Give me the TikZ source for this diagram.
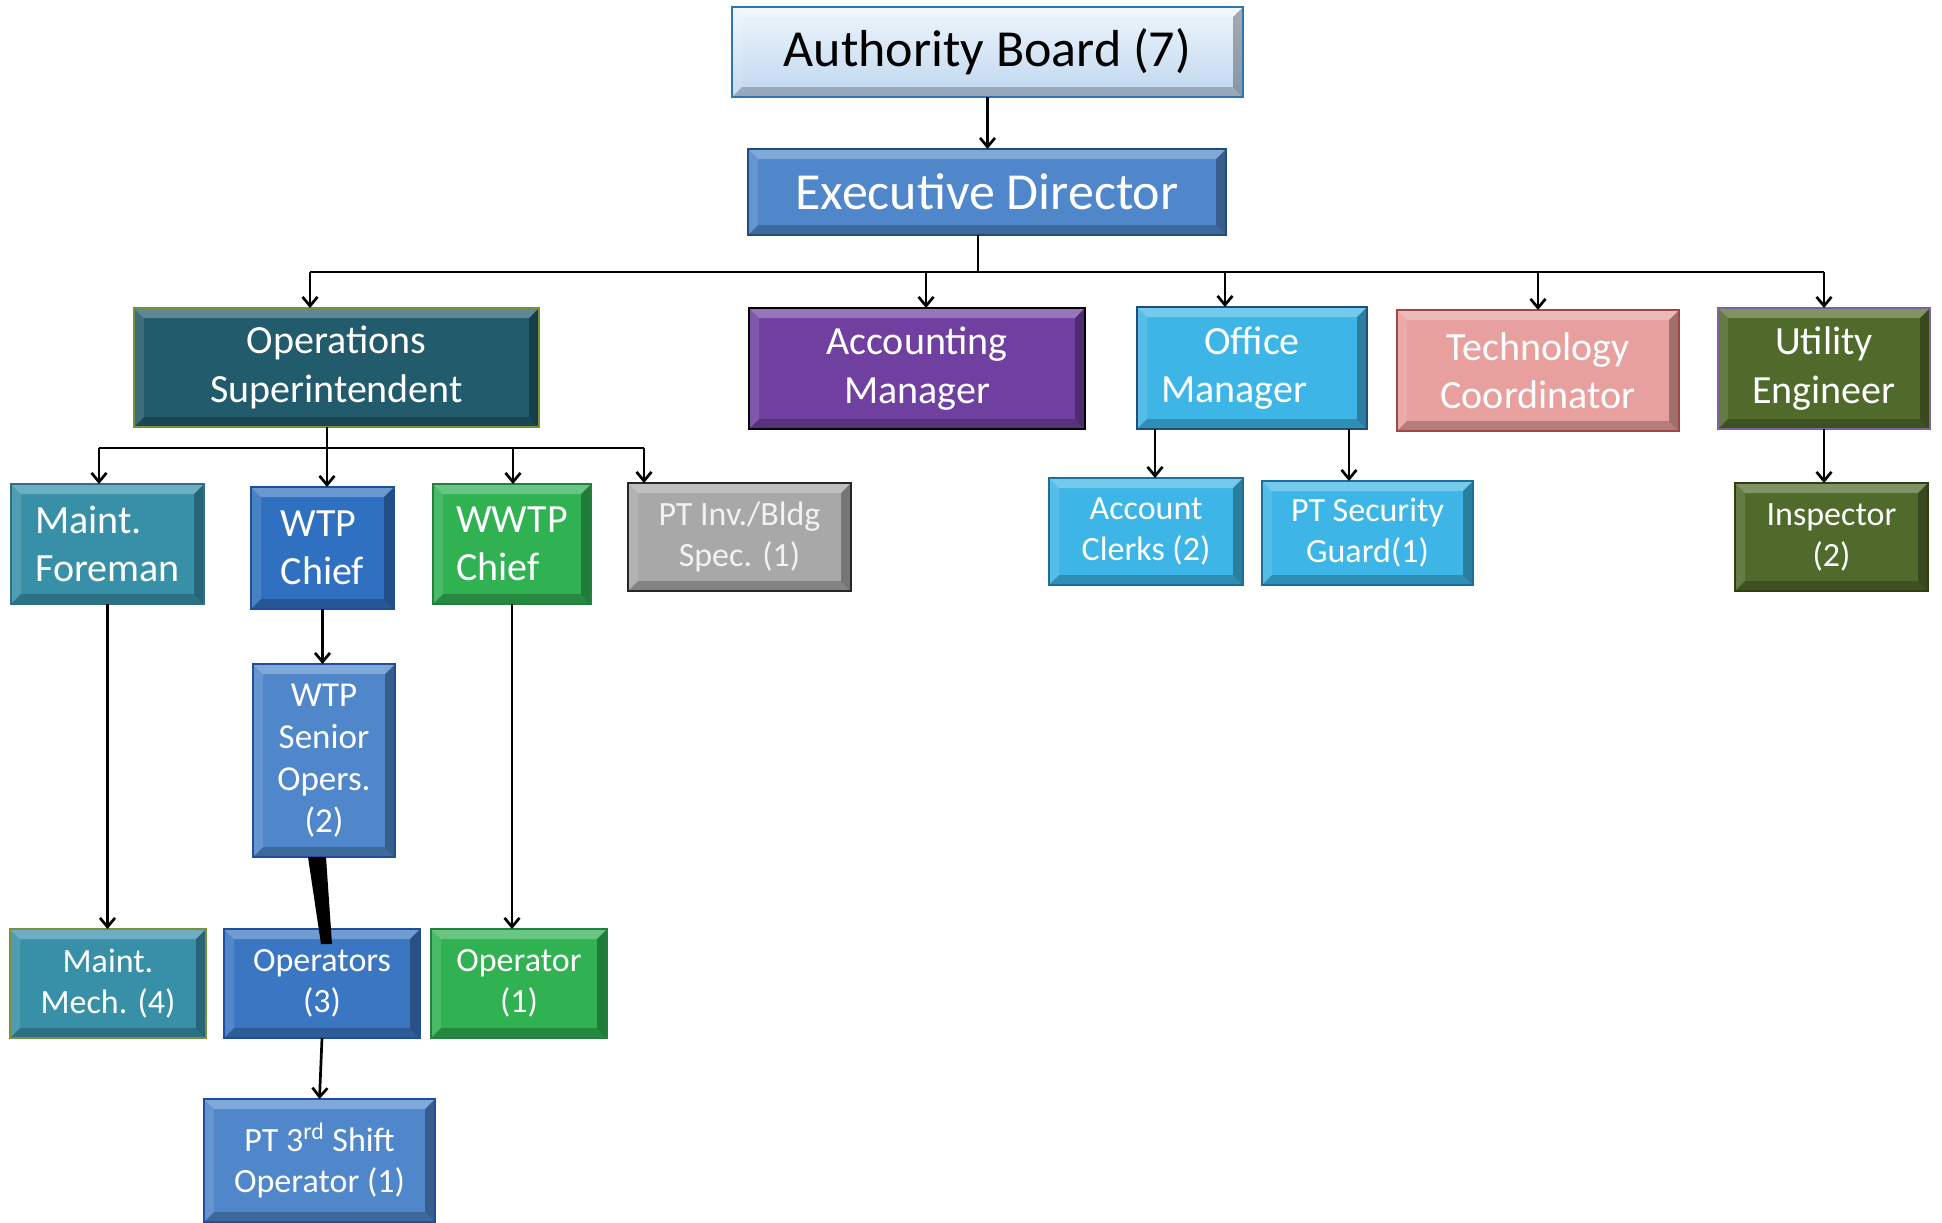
\documentclass[tikz,border=0pt]{standalone}
\usepackage{fontspec}
\setmainfont{Carlito}
\usetikzlibrary{arrows.meta,calc}
\definecolor{abtop}{HTML}{EEF5FC}
\definecolor{abbot}{HTML}{BFD7EF}
\definecolor{abline}{HTML}{2E75B6}
\definecolor{edfill}{HTML}{5087CA}
\definecolor{edline}{HTML}{1F4E79}
\definecolor{opsfill}{HTML}{225B6B}
\definecolor{olive}{HTML}{76923C}
\definecolor{accfill}{HTML}{7040A0}
\definecolor{offfill}{HTML}{3DB6E7}
\definecolor{offline}{HTML}{1F4E79}
\definecolor{techfill}{HTML}{E8A09E}
\definecolor{techline}{HTML}{A04848}
\definecolor{utilfill}{HTML}{4F6A2A}
\definecolor{utilline}{HTML}{7F60A0}
\definecolor{mffill}{HTML}{3890A8}
\definecolor{mfline}{HTML}{2E7088}
\definecolor{wtpfill}{HTML}{3070C0}
\definecolor{wtpline}{HTML}{1F4E9A}
\definecolor{wwtpfill}{HTML}{30B152}
\definecolor{wwtpline}{HTML}{238040}
\definecolor{ptifill}{HTML}{A8A8A8}
\definecolor{ptitext}{HTML}{F2F2F2}
\definecolor{acline}{HTML}{1F6E9A}
\definecolor{inspline}{HTML}{2F4010}
\definecolor{op3fill}{HTML}{3A76C2}
\begin{document}
\begin{tikzpicture}[x=0.5pt,y=-0.5pt,
  bevel/.style={path picture={
    \fill[white,opacity=0.28] (path picture bounding box.north west) -- (path picture bounding box.north east)
      -- ([shift={(-5pt,-5pt)}]path picture bounding box.north east) -- ([shift={(5pt,-5pt)}]path picture bounding box.north west) -- cycle;
    \fill[white,opacity=0.12] (path picture bounding box.north west) -- ([shift={(5pt,-5pt)}]path picture bounding box.north west)
      -- ([shift={(5pt,5pt)}]path picture bounding box.south west) -- (path picture bounding box.south west) -- cycle;
    \fill[black,opacity=0.22] (path picture bounding box.south west) -- (path picture bounding box.south east)
      -- ([shift={(-5pt,5pt)}]path picture bounding box.south east) -- ([shift={(5pt,5pt)}]path picture bounding box.south west) -- cycle;
    \fill[black,opacity=0.3] (path picture bounding box.north east) -- (path picture bounding box.south east)
      -- ([shift={(-5pt,5pt)}]path picture bounding box.south east) -- ([shift={(-5pt,-5pt)}]path picture bounding box.north east) -- cycle;
  }},
  box/.style={rectangle, draw, line width=1pt, text=white, inner sep=0pt, outer sep=0pt, align=center, bevel},
  fbig/.style={font=\fontsize{26}{31}\selectfont},
  fmid/.style={font=\fontsize{20}{24.2}\selectfont},
  fsml/.style={font=\fontsize{17}{20.5}\selectfont},
  sz/.style 2 args={minimum width=#1*0.5pt, minimum height=#2*0.5pt},
  conn/.style={line width=1.35pt},
  arr/.style={conn,-{Straight Barb[length=4.5pt,width=7.5pt]}},
]
\useasboundingbox (0,0) rectangle (1942,1222);

% level 0-1
\node[box, fbig, sz={511}{90}, draw=abline, line width=1.4pt, top color=abtop, bottom color=abbot, text=black] (ab) at (987.5,52) {Authority Board (7)};
\node[box, fbig, sz={478}{86}, fill=edfill, draw=edline] (ed) at (987,192) {Executive Director};

% level 2
\node[box, fmid, sz={405}{119}, fill=opsfill, draw=olive] (ops) at (336.5,367.5) {Operations\\Superintendent};
\node[box, fmid, sz={336}{121}, fill=accfill, draw=black] (acc) at (917,368.5) {Accounting\\Manager};
\node[box, fmid, sz={230}{122}, fill=offfill, draw=offline] (off) at (1252,368) {Office\\Manager\hspace*{18pt}};
\node[box, fmid, sz={282}{121}, fill=techfill, draw=techline] (tech) at (1538,370.5) {Technology\\Coordinator};
\node[box, fmid, sz={212}{121}, fill=utilfill, draw=utilline] (util) at (1824,368.5) {Utility\\Engineer};

% level 3
\node[box, fmid, align=left, sz={193}{120}, fill=mffill, draw=mfline] (mf) at (107.5,544) {Maint.\\Foreman};
\node[box, fmid, align=left, sz={143}{122}, fill=wtpfill, draw=wtpline] (wtp) at (322.5,548) {WTP\\Chief};
\node[box, fmid, align=left, sz={158}{120}, fill=wwtpfill, draw=wwtpline] (wwtp) at (512,544) {WWTP\\Chief};
\node[box, fsml, sz={223}{108}, fill=ptifill, draw=black!85, text=ptitext] (pti) at (739.5,537) {PT Inv./Bldg\\Spec. (1)};
\node[box, fsml, sz={194}{107}, fill=offfill, draw=acline] (ac) at (1146,531.5) {Account\\Clerks (2)};
\node[box, fsml, sz={211}{104}, fill=offfill, draw=acline] (sg) at (1367.5,533) {PT Security\\Guard(1)};
\node[box, fsml, sz={193}{108}, fill=utilfill, draw=inspline] (insp) at (1831.5,537) {Inspector\\(2)};

% level 4
\node[box, font=\fontsize{17.5}{21}\selectfont, sz={142}{193}, fill=edfill, draw=wtpline] (wso) at (324,760.5) {WTP\\Senior\\Opers.\\(2)};
\node[box, fsml, sz={196}{109}, fill=mffill, draw=olive] (mm) at (108,983.5) {Maint.\\Mech. (4)};
\node[box, fsml, sz={196}{109}, fill=op3fill, draw=wtpline] (op3) at (322,983.5) {Operators\\(3)};
\node[box, fsml, sz={176}{109}, fill=wwtpfill, draw=wwtpline] (op1) at (519,983.5) {Operator\\(1)};
\node[box, fsml, sz={231}{123}, fill=edfill, draw=wtpline] (pt3) at (319.5,1160.5) {PT 3\textsuperscript{rd} Shift\\Operator (1)};

% bus coordinates
\coordinate (bED) at (978,272);
\coordinate (bA) at (310,272);
\coordinate (bB) at (926,272);
\coordinate (bC) at (1225,272);
\coordinate (bD) at (1538,272);
\coordinate (bE) at (1824,272);
\coordinate (cA) at (99,448);
\coordinate (cB) at (327,448);
\coordinate (cC) at (513,448);
\coordinate (cD) at (644,448);

% connectors
\draw[arr] (ab.south) -- (ab.south |- ed.north);
\draw[conn] (ed.south -| bED) -- (bED);
\draw[conn] (bA) -- (bE);
\draw[arr] (bA) -- (bA |- ops.north);
\draw[arr] (bB) -- (bB |- acc.north);
\draw[arr] (bC) -- (bC |- off.north);
\draw[arr] (bD) -- (bD |- tech.north);
\draw[arr] (bE) -- (bE |- util.north);

\draw[conn] (ops.south -| cB) -- (cB);
\draw[conn] (cA) -- (cD);
\draw[arr] (cA) -- (cA |- mf.north);
\draw[arr] (cB) -- (cB |- wtp.north);
\draw[arr] (cC) -- (cC |- wwtp.north);
\draw[arr] (cD) -- (cD |- pti.north);

\draw[arr] ($(off.south)+(-97,0)$) -- ($(ac.north)+(9,0)$);
\draw[arr] ($(off.south)+(97,0)$) -- ($(sg.north)+(-18.5,0)$);
\draw[arr] (util.south) -- (util.south |- insp.north);

\draw[arr] (wtp.south) -- (wtp.south |- wso.north);
\draw[arr] (mf.south) -- (mf.south |- mm.north);
\draw[arr] (wwtp.south) -- (wwtp.south |- op1.north);
\draw[arr] (op3.south) -- (pt3.north);
\fill ($(wso.south)+(-16,0)$) -- ($(wso.south)+(2,0)$) -- ($(op3.north)+(10,15)$) -- ($(op3.north)+(-1,15)$) -- cycle;
\end{tikzpicture}
\end{document}
